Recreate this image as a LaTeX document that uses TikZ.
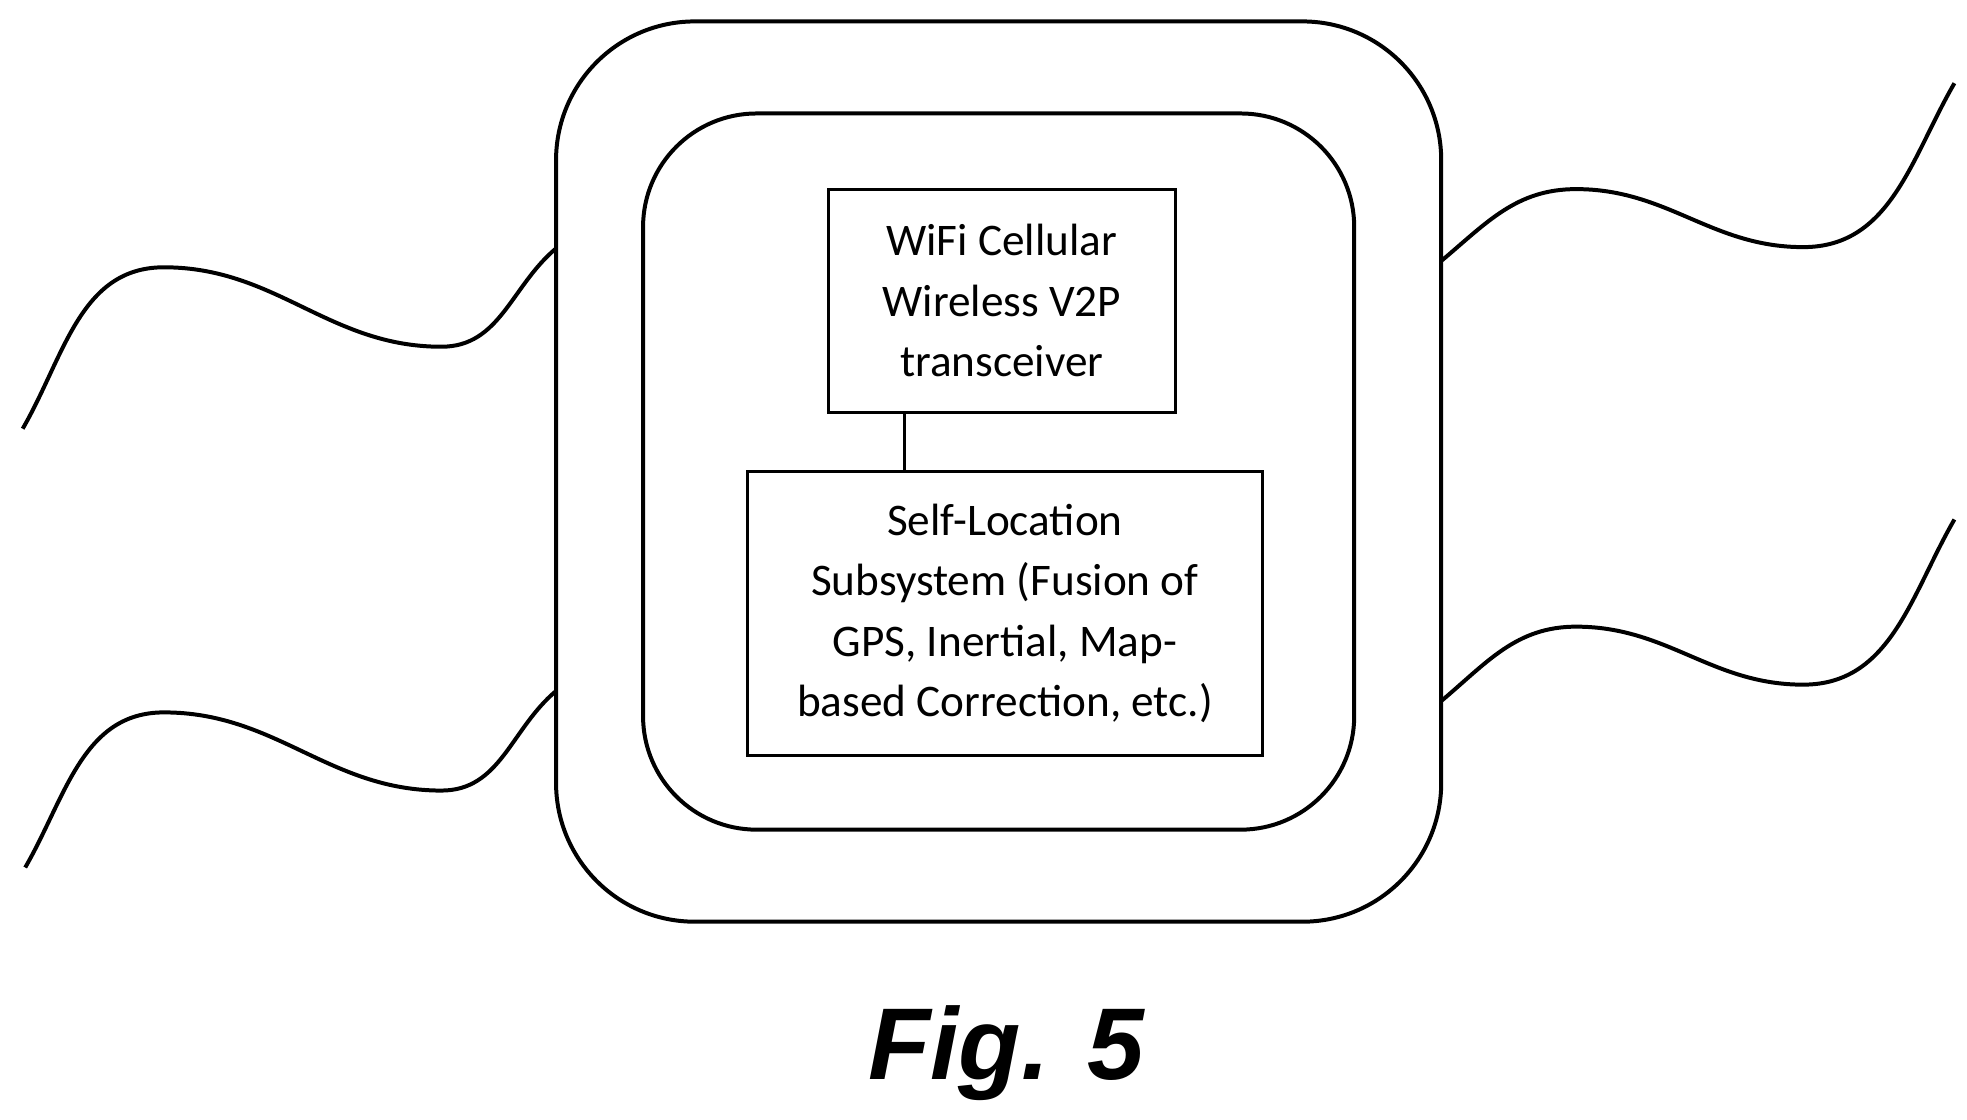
\documentclass[tikz,border=0pt]{standalone}
\usepackage{fontspec}
\setmainfont{Carlito}
\newfontfamily\figfont{Liberation Sans}
\begin{document}
\begin{tikzpicture}[x=0.01cm,y=0.01cm,
  box/.style={draw,line width=0.7pt,align=center,inner sep=0pt,font=\fontsize{10.2}{13.6}\selectfont},
  wave/.style={line width=0.9pt},
  frame/.style={line width=0.9pt}]
\useasboundingbox (0,0) rectangle (1560,888);
\draw[frame,rounded corners=1.1cm] (441,157) rectangle (1143,871);
\draw[frame,rounded corners=0.9cm] (510,230) rectangle (1074,798);
\node[box,minimum width=2.75cm,minimum height=1.77cm] (a) at (794.5,649.5) {WiFi Cellular\\Wireless V2P\\transceiver};
\node[box,minimum width=4.08cm,minimum height=2.25cm] (b) at (797,401.5) {Self-Location\\Subsystem (Fusion of\\GPS, Inertial, Map-\\based Correction, etc.)};
\coordinate (cx) at (717,0);
\draw[line width=0.7pt] (a.south -| cx) -- (b.north -| cx);
\draw[wave] (18,548) to[out=60,in=180] (130,676) to[out=0,in=180] (350,613) to[out=0,in=220] (441,691);
\draw[wave] (20,200) to[out=60,in=180] (130,323) to[out=0,in=180] (350,261) to[out=0,in=220] (441,340);
\draw[wave] (1143,681) to[out=40,in=180] (1250,738) to[out=0,in=180] (1430,692) to[out=0,in=240] (1550,822);
\draw[wave] (1143,332) to[out=40,in=180] (1250,391) to[out=0,in=180] (1430,345) to[out=0,in=240] (1550,476);
\node[font=\figfont\bfseries\itshape\fontsize{23}{28}\selectfont] (f) at (798,53) {Fig. 5};
\end{tikzpicture}
\end{document}
